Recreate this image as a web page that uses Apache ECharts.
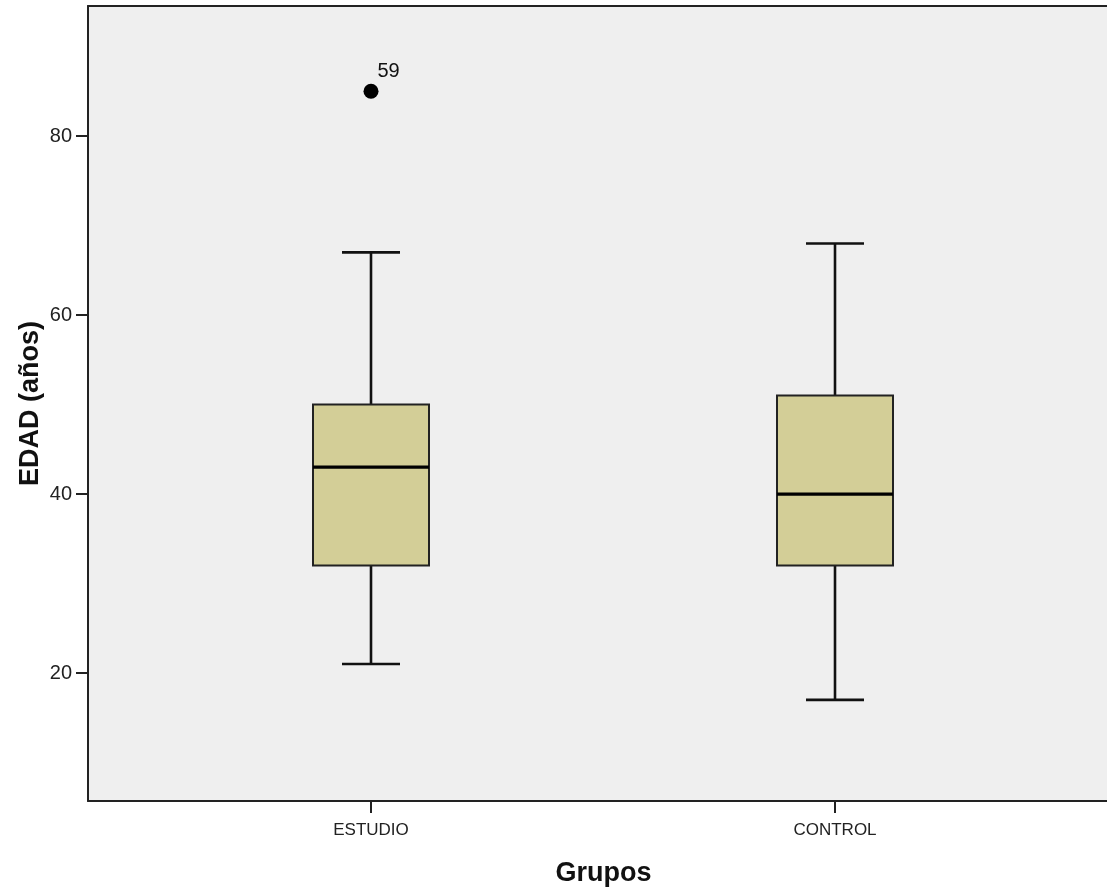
<!DOCTYPE html>
<html>
<head>
<meta charset="utf-8">
<script src="https://cdn.jsdelivr.net/npm/echarts@6/dist/echarts.min.js"></script>
<style>
html,body{margin:0;padding:0;background:#fff;}
#chart{width:1107px;height:892px;}
</style>
</head>
<body>
<div id="chart"></div>
<script>
// ---- data ----
var categories = ['ESTUDIO', 'CONTROL'];
var whiskerLow = [21, 17];
var q1 = [32, 32];
var medians = [43, 40];
var q3 = [50, 51];
var whiskerHigh = [67, 68];
var outlierCategory = ['ESTUDIO'];
var outlierValues = [85];
var outlierLabels = ['59'];
var yTicks = [20, 40, 60, 80];
var yMin = 5.7, yMax = 94.53;

var boxData = categories.map(function (c, i) {
  return [i, whiskerLow[i], q1[i], medians[i], q3[i], whiskerHigh[i]];
});
var outlierData = outlierValues.map(function (v, i) {
  return { value: [categories.indexOf(outlierCategory[i]), v], name: outlierLabels[i] };
});

var FONT = 'Liberation Sans, Arial, sans-serif';
var chart = echarts.init(document.getElementById('chart'));

function renderBox(params, api) {
  var idx = api.value(0);
  var band = api.size([1, 0])[0];
  var bw = band * 0.25;
  var cap = bw / 2;
  var x = api.coord([idx, api.value(3)])[0];
  var yLo = api.coord([idx, api.value(1)])[1];
  var yQ1 = api.coord([idx, api.value(2)])[1];
  var yMed = api.coord([idx, api.value(3)])[1];
  var yQ3 = api.coord([idx, api.value(4)])[1];
  var yHi = api.coord([idx, api.value(5)])[1];
  var lineStyle = { stroke: '#111', lineWidth: 2.6, fill: null };
  return {
    type: 'group',
    children: [
      { type: 'line', shape: { x1: x, y1: yQ3, x2: x, y2: yHi }, style: lineStyle },
      { type: 'line', shape: { x1: x, y1: yQ1, x2: x, y2: yLo }, style: lineStyle },
      { type: 'line', shape: { x1: x - cap / 2, y1: yHi, x2: x + cap / 2, y2: yHi }, style: lineStyle },
      { type: 'line', shape: { x1: x - cap / 2, y1: yLo, x2: x + cap / 2, y2: yLo }, style: lineStyle },
      { type: 'rect', shape: { x: x - bw / 2, y: yQ3, width: bw, height: yQ1 - yQ3 },
        style: { fill: '#d3ce97', stroke: '#222', lineWidth: 2 } },
      { type: 'line', shape: { x1: x - bw / 2, y1: yMed, x2: x + bw / 2, y2: yMed },
        style: { stroke: '#000', lineWidth: 3.2 } }
    ]
  };
}

var axisLineStyle = { color: '#222', width: 2 };

var option = {
  backgroundColor: '#ffffff',
  animation: false,
  grid: [
    { left: 88, top: 6, right: 0, bottom: 91, show: true, backgroundColor: '#efefef',
      borderWidth: 0 },
    { left: 139, top: 6, right: 40, bottom: 91 }
  ],
  xAxis: [
    { type: 'value', gridIndex: 0, min: 0, max: 1, position: 'bottom',
      axisLine: { show: true, onZero: false, lineStyle: axisLineStyle },
      axisTick: { show: false }, axisLabel: { show: false }, splitLine: { show: false },
      name: 'Grupos', nameLocation: 'middle', nameGap: 59, nameMoveOverlap: false,
      nameTextStyle: { fontFamily: FONT, fontSize: 27, fontWeight: 'bold', color: '#111',
        padding: [0, 0, 0, 12] } },
    { type: 'value', gridIndex: 0, min: 0, max: 1, position: 'top',
      axisLine: { show: true, onZero: false, lineStyle: axisLineStyle },
      axisTick: { show: false }, axisLabel: { show: false }, splitLine: { show: false } },
    { type: 'category', gridIndex: 1, data: categories, boundaryGap: true,
      axisLine: { show: false },
      axisTick: { show: true, alignWithLabel: true, length: 12, lineStyle: { color: '#222', width: 2 } },
      axisLabel: { fontFamily: FONT, fontSize: 17, color: '#222', margin: 21 },
      splitLine: { show: false } }
  ],
  yAxis: [
    { type: 'value', gridIndex: 0, min: yMin, max: yMax,
      axisLine: { show: true, onZero: false, lineStyle: axisLineStyle },
      axisTick: { show: true, length: 12, customValues: yTicks, lineStyle: { color: '#222', width: 2 } },
      axisLabel: { fontFamily: FONT, fontSize: 20, color: '#222', margin: 16, customValues: yTicks },
      splitLine: { show: false },
      name: 'EDAD (años)', nameLocation: 'middle', nameGap: 44, nameMoveOverlap: false,
      nameTextStyle: { fontFamily: FONT, fontSize: 27, fontWeight: 'bold', color: '#111' } },
    { type: 'value', gridIndex: 1, min: yMin, max: yMax, show: false, splitLine: { show: false } }
  ],
  series: [
    { type: 'custom', xAxisIndex: 2, yAxisIndex: 1, data: boxData,
      encode: { x: 0, y: [1, 2, 3, 4, 5] }, renderItem: renderBox, silent: true },
    { type: 'scatter', xAxisIndex: 2, yAxisIndex: 1, data: outlierData,
      symbol: 'circle', symbolSize: 15, itemStyle: { color: '#000', opacity: 1 },
      label: { show: true, formatter: '{b}', position: 'right', offset: [-6, -20],
        fontFamily: FONT, fontSize: 20, color: '#111' } }
  ]
};
chart.setOption(option);
</script>
</body>
</html>
